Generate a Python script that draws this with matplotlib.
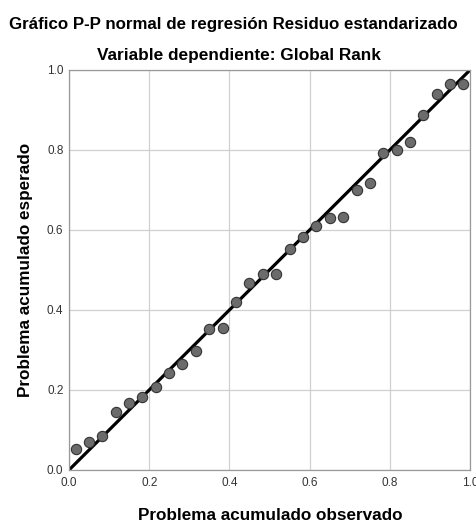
import matplotlib
matplotlib.use('Agg')
import matplotlib.pyplot as plt

plt.rcParams['font.family'] = ['Liberation Sans', 'DejaVu Sans']

# P-P plot data (observed vs expected cumulative probability)
observed = [0.017, 0.050, 0.083, 0.117, 0.150, 0.183, 0.217, 0.250, 0.283, 0.317,
            0.350, 0.383, 0.417, 0.450, 0.483, 0.517, 0.550, 0.583, 0.617, 0.650,
            0.683, 0.717, 0.750, 0.783, 0.817, 0.850, 0.883, 0.917, 0.950, 0.983]
expected = [0.052, 0.071, 0.085, 0.144, 0.168, 0.182, 0.208, 0.242, 0.264, 0.297,
            0.353, 0.354, 0.421, 0.467, 0.491, 0.491, 0.553, 0.583, 0.611, 0.629,
            0.633, 0.699, 0.717, 0.793, 0.801, 0.820, 0.887, 0.939, 0.964, 0.965]
ticks = [0.0, 0.2, 0.4, 0.6, 0.8, 1.0]
tick_labels = ['0.0', '0.2', '0.4', '0.6', '0.8', '1.0']

W, H = 477, 523
fig = plt.figure(figsize=(W / 100, H / 100), dpi=100)
ax = fig.add_axes([69 / W, 1 - 470 / H, 401 / W, 400 / H])

ax.plot([0, 1], [0, 1], color='black', lw=2.3, zorder=2, solid_capstyle='butt')
ax.scatter(observed, expected, s=55, color='#6b6b6b', edgecolors='#333333',
           linewidths=0.8, zorder=3)

ax.set_xlim(0, 1)
ax.set_ylim(0, 1)
ax.set_xticks(ticks)
ax.set_xticklabels(tick_labels)
ax.set_yticks(ticks)
ax.set_yticklabels(tick_labels)
ax.tick_params(length=0, labelsize=8.5, labelcolor='#333333')
ax.tick_params(axis='x', pad=5)
ax.tick_params(axis='y', pad=4)
ax.grid(True, color='#d0d0d0', lw=0.9)
ax.set_axisbelow(True)
for sp in ax.spines.values():
    sp.set_color('#999999')
    sp.set_linewidth(0.9)

# axis titles
fig.text(270 / W, 1 - 515 / H, 'Problema acumulado observado',
         ha='center', va='center', fontsize=12.3, fontweight='bold')
fig.text(25.5 / W, 1 - 270 / H, 'Problema acumulado esperado', rotation=90,
         ha='center', va='center', fontsize=12.3, fontweight='bold')

fig.text(233.5 / W, 1 - 29.5 / H, 'Gráfico P-P normal de regresión Residuo estandarizado',
         ha='center', va='baseline', fontsize=12.2, fontweight='bold')
fig.text(238.5 / W, 1 - 60 / H, 'Variable dependiente: Global Rank',
         ha='center', va='baseline', fontsize=12.4, fontweight='bold')

fig.savefig('out.png', dpi=100)
